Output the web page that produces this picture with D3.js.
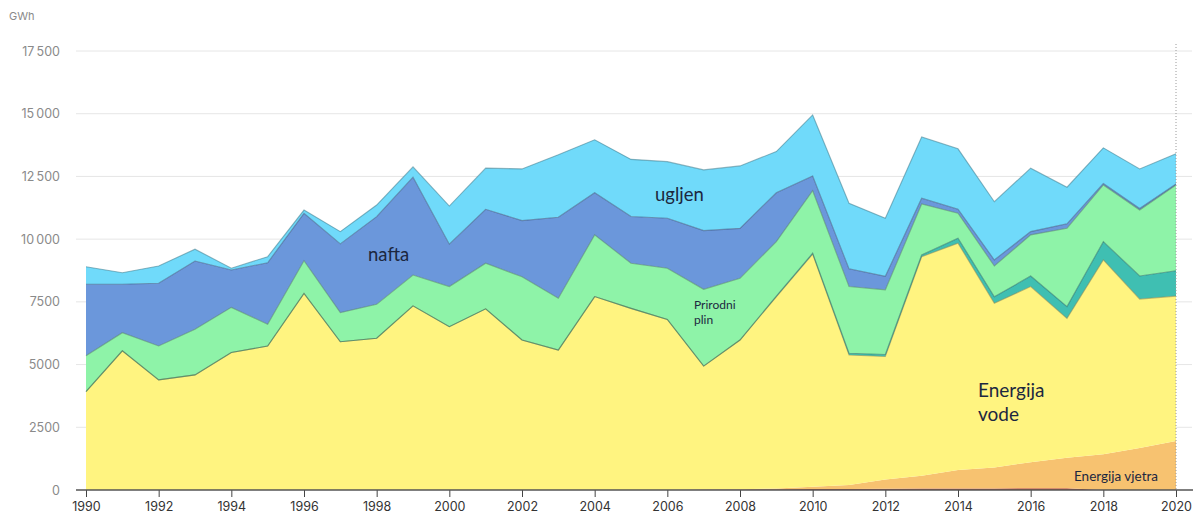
<!DOCTYPE html>
<html>
<head>
<meta charset="utf-8">
<script src="https://cdn.jsdelivr.net/npm/d3@7"></script>
<style>
  body { margin: 0; background: #fff; }
  svg { display: block; }
</style>
</head>
<body>
<div id="chart"></div>
<script>
// data (GWh)
let years = d3.range(1990, 2021);

let solar = [0,0,0,0,0,0,0,0,0,0, 0,0,0,0,0,0,0,20,20,30, 40,40,50,60,60,60,70,70,0,0, 0];
let wind  = [0,0,0,0,0,0,0,0,0,0, 0,0,0,0,0,0,0,0,10,30, 90,160,370,510,740,840,1040,1220,1430,1670, 1950];
let hydro = [3920,5550,4390,4590,5480,5740,7840,5910,6050,7340, 6510,7220,5980,5580,7710,7240,6800,4920,5950,7640, 9270,5180,4900,8730,9040,6540,7000,5550,7740,5940, 5780];
let other = [0,0,0,0,0,0,0,0,0,0, 0,0,0,0,0,0,0,0,0,30, 40,70,80,70,200,260,420,470,730,920, 1010];
let gas   = [1430,720,1350,1820,1800,870,1300,1160,1350,1230, 1600,1820,2520,2060,2460,1800,2040,3060,2460,2170, 2490,2660,2580,2030,990,1230,1640,3120,2260,2630, 3420];
let oil   = [2850,1930,2500,2720,1490,2450,1890,2740,3500,3900, 1690,2150,2240,3230,1680,1860,1990,2340,1990,1950, 590,710,540,230,160,240,130,180,60,60, 40];
let coal  = [700,460,690,470,70,240,130,490,460,410, 1520,1640,2060,2490,2110,2280,2260,2420,2490,1640, 2430,2610,2310,2440,2410,2320,2530,1460,1420,1580, 1200];

let keys   = ['solar', 'wind', 'hydro', 'other', 'gas', 'oil', 'coal'];
let colors = ['#b9533f', '#f7c270', '#fff480', '#3fbfb2', '#8ef3a8', '#6b97db', '#70dafa'];
let yTicks = [0, 2500, 5000, 7500, 10000, 12500, 15000, 17500];
let xTicks = d3.range(1990, 2021, 2);

let width = 1195;
let height = 516;

let rows = years.map(function(y, i){
	return {year: y, solar: solar[i], wind: wind[i], hydro: hydro[i], other: other[i],
		gas: gas[i], oil: oil[i], coal: coal[i]};
});

let svg = d3.select('#chart')
	.append('svg')
	.attr('width', width)
	.attr('height', height);

let x = d3.scaleLinear()
	.domain([1990, 2020])
	.range([86, 1176]);

let y = d3.scaleLinear()
	.domain([0, 17500])
	.range([490, 51]);

// gridlines + y labels
svg.append('g')
	.selectAll('line')
	.data(yTicks.slice(1))
	.enter()
	.append('line')
	.attr('x1', 76)
	.attr('x2', 1192)
	.attr('y1', d => y(d))
	.attr('y2', d => y(d))
	.attr('stroke', '#e6e6e6')
	.attr('stroke-width', 1);

svg.append('g')
	.selectAll('text')
	.data(yTicks)
	.enter()
	.append('text')
	.attr('x', 60)
	.attr('y', d => y(d) + 4.5)
	.attr('text-anchor', 'end')
	.attr('font-family', 'Inter, "Noto Sans", sans-serif')
	.attr('font-size', 12.5)
	.attr('fill', '#8a8a8a')
	.text(function(d){
		if(d >= 10000) return d3.format(',')(d).replace(',', '\u2009');
		return d;
	});

svg.append('text')
	.attr('x', 9)
	.attr('y', 20)
	.attr('font-family', 'Inter, "Noto Sans", sans-serif')
	.attr('font-size', 11)
	.attr('fill', '#8a8a8a')
	.text('GWh');

// stacked areas
let stack = d3.stack().keys(keys);
let series = stack(rows);

let area = d3.area()
	.x(d => x(d.data.year))
	.y0(d => y(d[0]))
	.y1(d => y(d[1]));

let topLine = d3.line()
	.x(d => x(d.data.year))
	.y(d => y(d[1]));

svg.append('g')
	.selectAll('path')
	.data(series)
	.enter()
	.append('path')
	.attr('d', area)
	.attr('fill', (d, i) => colors[i]);

svg.append('g')
	.selectAll('path')
	.data(series.slice(2))
	.enter()
	.append('path')
	.attr('d', topLine)
	.attr('fill', 'none')
	.attr('stroke', (d, i) => d3.color(colors[i + 2]).darker(1.6))
	.attr('stroke-opacity', 0.55)
	.attr('stroke-width', 1.1);

// dotted marker at last year
svg.append('line')
	.attr('x1', x(2020))
	.attr('x2', x(2020))
	.attr('y1', 44)
	.attr('y2', 490)
	.attr('stroke', '#9a9a9a')
	.attr('stroke-dasharray', '1,2')
	.attr('stroke-width', 1);

// x axis
let xAxis = svg.append('g')
	.attr('transform', 'translate(0,490)')
	.call(d3.axisBottom(x).tickValues(xTicks).tickFormat(d3.format('d')).tickSize(7).tickPadding(5).tickSizeOuter(0));

xAxis.select('.domain').remove();
xAxis.append('line')
	.attr('x1', 76)
	.attr('x2', 1193)
	.attr('stroke', '#555')
	.attr('stroke-width', 1.5);
xAxis.selectAll('.tick line').attr('stroke', '#444');
xAxis.selectAll('.tick text')
	.attr('font-family', 'Inter, "Noto Sans", sans-serif')
	.attr('font-size', 12.5)
	.attr('fill', '#333');

// labels
let labels = [
	{t: 'ugljen', x: 655, y: 201, s: 18.5},
	{t: 'nafta', x: 368, y: 261, s: 18.5},
	{t: 'Prirodni', x: 694, y: 309, s: 12},
	{t: 'plin', x: 694, y: 324, s: 12},
	{t: 'Energija', x: 978, y: 397, s: 19},
	{t: 'vode', x: 978, y: 421, s: 19},
	{t: 'Energija vjetra', x: 1074, y: 481, s: 13.5}
];

svg.append('g')
	.selectAll('text')
	.data(labels)
	.enter()
	.append('text')
	.attr('x', d => d.x)
	.attr('y', d => d.y)
	.attr('font-family', 'Lato, "Open Sans", sans-serif')
	.attr('font-size', d => d.s)
	.attr('fill', '#1c2740')
	.text(d => d.t);
</script>
</body>
</html>
